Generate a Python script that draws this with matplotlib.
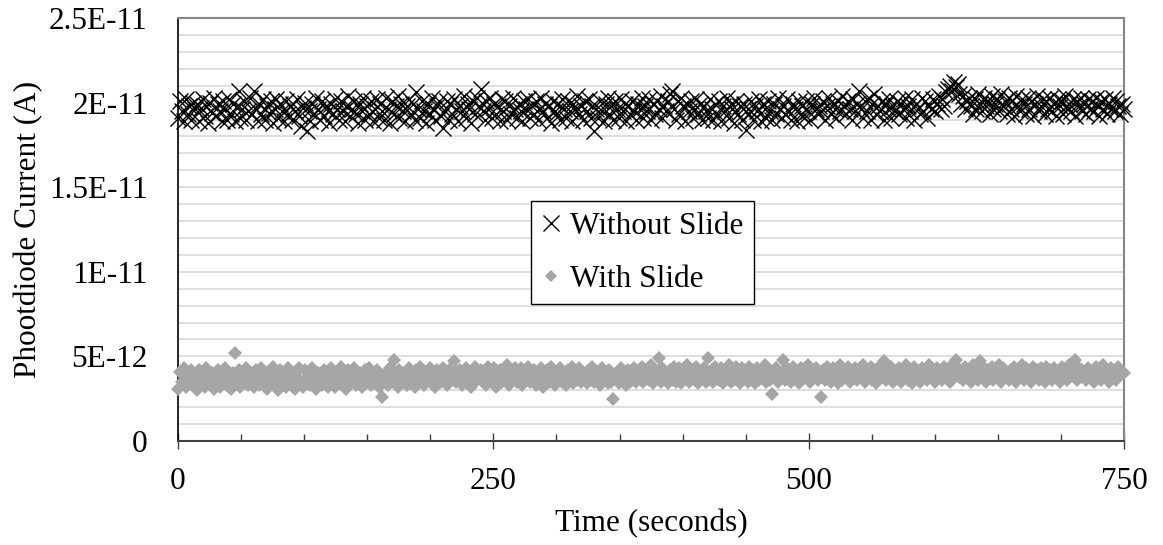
import numpy as np
import matplotlib
matplotlib.use('Agg')
import matplotlib.pyplot as plt
from matplotlib.lines import Line2D
from matplotlib.ticker import MultipleLocator

plt.rcParams['font.family'] = ['Liberation Serif', 'DejaVu Serif']

# readings in pA, sampled every 1.5 s
without_slide = [
    19.1, 20.1, 19.5, 18.9, 20.2, 19.3, 19.8, 19.0, 20.0, 19.6, 19.9, 18.9, 19.7, 20.2, 19.2, 19.8, 18.8, 20.0, 19.4, 20.3,
    19.2, 19.9, 19.5, 18.9, 20.1, 19.6, 19.0, 20.2, 19.3, 19.9, 18.9, 19.8, 20.7, 19.1, 19.6, 20.1, 19.0, 19.5, 20.3, 19.3,
    20.7, 19.6, 18.9, 19.9, 19.3, 20.2, 19.0, 19.8, 19.4, 20.1, 18.8, 19.6, 20.2, 19.1, 19.9, 19.5, 18.9, 20.1, 19.3, 19.8,
    19.0, 19.9, 19.5, 20.2, 19.2, 18.6, 19.7, 20.0, 18.3, 19.5, 18.9, 19.9, 19.3, 20.3, 19.6, 19.0, 20.1, 19.2, 19.8, 19.5,
    18.8, 19.9, 19.3, 20.2, 19.6, 19.0, 20.1, 19.5, 18.9, 19.8, 20.4, 19.2, 19.6, 20.1, 19.3, 18.8, 19.9, 19.5, 20.3, 19.0,
    19.8, 19.3, 20.1, 18.9, 19.6, 20.2, 19.1, 19.9, 19.5, 19.0, 20.3, 19.6, 18.8, 20.1, 19.3, 19.8, 20.4, 19.1, 19.9, 19.5,
    18.9, 19.8, 20.2, 19.3, 19.9, 19.0, 20.6, 19.6, 19.1, 20.1, 19.5, 18.8, 19.9, 19.3, 20.3, 19.6, 19.0, 19.8, 20.1, 19.2,
    18.5, 19.5, 20.1, 19.0, 19.9, 19.3, 20.2, 19.6, 18.9, 19.8, 19.5, 20.4, 19.1, 19.9, 19.6, 18.8, 20.1, 19.3, 20.3, 19.8,
    20.8, 19.5, 19.0, 20.1, 19.6, 20.3, 19.1, 19.9, 19.3, 19.8, 18.9, 20.2, 19.5, 20.1, 19.0, 19.8, 19.3, 20.3, 19.6, 19.1,
    19.9, 19.5, 18.9, 20.1, 19.6, 20.2, 19.1, 19.8, 19.3, 20.1, 19.0, 19.6, 20.3, 19.5, 19.9, 19.1, 19.8, 18.8, 20.1, 19.5,
    19.3, 19.9, 19.0, 20.2, 19.6, 19.1, 20.1, 19.5, 18.9, 19.9, 19.6, 20.4, 19.3, 19.8, 19.0, 20.1, 19.5, 20.2, 19.1, 19.8,
    18.3, 19.6, 19.1, 20.1, 19.5, 18.9, 19.9, 20.3, 19.3, 19.8, 19.0, 20.1, 19.6, 19.1, 20.2, 19.5, 19.9, 18.9, 19.8, 19.3,
    20.1, 19.5, 19.0, 19.9, 19.6, 20.3, 19.1, 19.8, 19.5, 20.2, 19.0, 19.9, 19.3, 20.1, 19.6, 20.4, 19.1, 19.8, 19.5, 20.1,
    20.5, 20.7, 19.6, 19.0, 20.1, 19.3, 20.3, 19.8, 18.9, 19.9, 19.5, 20.1, 19.1, 19.6, 20.2, 19.3, 19.9, 19.0, 19.8, 19.5,
    19.1, 20.2, 19.6, 19.0, 19.9, 19.3, 20.1, 18.9, 19.8, 19.5, 20.3, 19.1, 19.9, 19.6, 18.8, 20.1, 19.3, 19.8, 19.0, 19.9,
    18.4, 19.6, 19.3, 20.1, 19.0, 19.8, 19.5, 20.2, 18.9, 19.9, 19.6, 19.1, 20.1, 19.5, 19.0, 19.9, 19.3, 20.3, 19.6, 19.1,
    19.8, 19.3, 20.2, 19.5, 19.0, 19.9, 19.6, 18.9, 20.1, 19.3, 19.8, 19.1, 20.1, 19.5, 19.0, 19.9, 20.3, 19.6, 19.3, 19.8,
    19.5, 20.1, 19.0, 19.8, 20.3, 19.3, 19.9, 19.6, 19.1, 20.1, 19.5, 20.4, 19.8, 19.3, 20.1, 19.6, 19.0, 20.2, 19.5, 19.9,
    20.7, 19.6, 19.1, 20.1, 19.5, 20.3, 19.0, 19.9, 20.5, 19.3, 19.8, 19.5, 20.1, 19.0, 19.9, 19.6, 20.2, 19.1, 19.8, 19.5,
    20.1, 19.3, 19.9, 19.6, 20.3, 19.1, 19.8, 19.5, 20.2, 19.0, 19.9, 19.6, 19.3, 20.3, 19.5, 20.1, 19.1, 19.8, 19.6, 20.2,
    19.5, 19.9, 20.4, 19.6, 20.2, 19.8, 20.6, 20.8, 21.0, 20.7, 21.2, 20.9, 21.1, 20.5, 19.9, 20.4, 19.6, 20.1, 20.3, 19.8,
    19.3, 20.2, 19.6, 20.5, 19.9, 19.5, 20.3, 19.8, 20.1, 19.3, 20.4, 19.6, 19.9, 20.2, 19.5, 20.5, 19.8, 20.1, 19.3, 20.3,
    19.6, 20.1, 19.2, 20.4, 19.8, 19.5, 20.2, 19.9, 19.3, 20.3, 19.6, 20.1, 19.2, 19.9, 20.4, 19.5, 19.8, 20.2, 19.3, 20.1,
    19.6, 20.3, 19.5, 19.9, 19.2, 20.2, 19.8, 20.1, 19.3, 20.4, 19.6, 19.9, 19.5, 20.2, 19.2, 20.1, 19.8, 20.3, 19.5, 19.9,
    19.3, 20.2, 19.6, 20.1, 19.5, 20.3, 19.8, 19.2, 20.1, 19.6, 20.2, 19.3, 19.9, 19.6, 20.3, 19.5, 20.1, 19.8, 19.3, 19.9,
    19.6,
]

with_slide = [
    3.1, 4.1, 3.5, 4.3, 3.2, 3.9, 3.6, 4.2, 3.3, 3.8, 3.0, 4.2, 3.5, 3.9, 3.2, 4.3, 3.6, 3.3, 4.0, 3.1,
    3.5, 4.2, 3.2, 3.9, 3.6, 4.3, 3.3, 3.8, 3.1, 4.0, 5.2, 3.5, 4.2, 3.2, 3.9, 3.6, 4.3, 3.3, 3.8, 4.0,
    3.2, 4.2, 3.6, 3.3, 4.3, 3.5, 3.9, 3.1, 4.0, 3.6, 4.4, 3.3, 3.8, 3.0, 4.2, 3.5, 3.9, 3.2, 4.3, 3.6,
    3.3, 4.0, 3.1, 3.8, 4.3, 3.5, 3.2, 4.2, 3.6, 3.9, 3.3, 4.3, 3.5, 3.1, 4.0, 3.8, 3.3, 4.2, 3.6, 3.2,
    3.9, 4.3, 3.5, 3.2, 4.0, 3.6, 4.4, 3.3, 3.8, 3.1, 4.2, 3.5, 3.9, 4.3, 3.3, 3.6, 4.0, 3.2, 3.8, 4.2,
    3.5, 4.3, 3.3, 3.9, 3.6, 4.2, 3.2, 3.8, 2.6, 3.5, 4.0, 3.3, 4.3, 3.6, 4.8, 3.9, 3.2, 4.2, 3.5, 3.8,
    4.0, 3.3, 4.3, 3.6, 3.9, 3.2, 4.2, 3.5, 4.4, 3.8, 3.3, 4.0, 3.6, 4.3, 3.5, 3.9, 3.2, 4.2, 3.8, 3.5,
    4.3, 3.6, 3.3, 4.0, 3.8, 4.4, 4.7, 3.5, 3.9, 4.2, 3.3, 3.8, 4.3, 3.5, 4.0, 3.2, 3.9, 4.4, 3.6, 3.8,
    4.2, 3.5, 4.0, 3.3, 4.4, 3.8, 3.6, 4.3, 3.2, 3.9, 4.2, 3.5, 4.0, 3.6, 4.5, 3.3, 3.9, 3.8, 4.3, 3.5,
    3.9, 4.3, 3.3, 4.0, 3.6, 4.4, 3.5, 3.8, 4.2, 3.3, 4.0, 3.6, 4.3, 3.2, 3.9, 4.2, 3.5, 4.4, 3.8, 3.3,
    4.0, 3.6, 4.3, 3.5, 3.9, 3.3, 4.2, 3.8, 4.4, 3.4, 3.9, 3.6, 4.3, 3.5, 4.0, 3.8, 3.4, 4.2, 3.6, 4.4,
    3.5, 4.0, 3.8, 3.3, 4.3, 3.6, 3.9, 3.4, 4.2, 3.5, 2.5, 3.8, 4.0, 3.4, 4.3, 3.6, 3.9, 3.3, 4.2, 3.5,
    3.9, 4.3, 3.5, 4.0, 3.7, 4.4, 3.5, 3.9, 4.2, 3.6, 4.5, 3.4, 3.8, 4.1, 4.9, 3.5, 4.3, 3.8, 4.0, 3.4,
    4.2, 3.6, 4.4, 3.5, 3.9, 4.3, 3.4, 4.0, 3.8, 4.5, 3.5, 3.9, 4.2, 3.6, 4.4, 3.4, 4.0, 3.8, 4.3, 3.5,
    4.9, 3.8, 4.2, 3.5, 4.4, 3.9, 3.6, 4.3, 3.4, 4.0, 3.8, 4.5, 3.5, 4.2, 3.6, 4.4, 3.9, 3.4, 4.3, 3.8,
    4.0, 3.5, 4.4, 3.8, 4.2, 3.4, 4.3, 3.6, 4.0, 3.9, 4.5, 3.5, 4.2, 3.6, 2.8, 3.9, 4.3, 3.5, 4.0, 3.8,
    4.8, 3.6, 4.3, 3.9, 3.5, 4.4, 3.8, 4.1, 3.4, 4.3, 3.6, 4.2, 3.9, 4.5, 3.5, 4.0, 3.8, 4.3, 3.6, 3.9,
    2.6, 4.2, 3.6, 4.4, 3.9, 3.5, 4.3, 3.8, 4.1, 3.4, 4.5, 3.6, 4.2, 3.9, 4.4, 3.5, 4.0, 3.8, 4.3, 3.6,
    4.2, 3.9, 4.5, 3.5, 4.0, 3.8, 4.4, 3.6, 4.2, 3.4, 4.3, 3.9, 4.0, 4.7, 3.6, 4.2, 3.8, 4.4, 3.5, 4.0,
    3.8, 4.3, 3.5, 4.0, 3.9, 4.5, 3.6, 4.2, 3.4, 4.4, 3.8, 4.0, 3.5, 4.3, 3.9, 4.2, 3.6, 4.5, 3.8, 4.0,
    3.5, 4.3, 3.9, 4.0, 3.6, 4.4, 3.8, 4.2, 3.5, 4.5, 3.9, 4.8, 4.3, 3.8, 4.0, 3.6, 4.4, 3.9, 4.2, 3.5,
    4.5, 3.8, 4.0, 3.6, 4.7, 3.9, 4.3, 3.5, 4.2, 3.8, 4.4, 3.6, 4.0, 3.9, 4.5, 3.5, 4.3, 3.8, 4.0, 3.6,
    4.2, 3.9, 4.4, 3.5, 4.0, 3.8, 4.5, 3.6, 4.3, 3.9, 4.0, 3.5, 4.4, 3.8, 4.2, 3.6, 4.3, 4.0, 3.5, 4.4,
    3.8, 4.2, 3.6, 4.3, 3.9, 4.0, 3.5, 4.4, 3.8, 4.2, 3.6, 4.5, 3.9, 4.0, 4.8, 3.6, 4.3, 3.8, 4.2, 3.9,
    3.6, 4.3, 3.9, 4.0, 3.5, 4.4, 3.8, 4.2, 3.6, 4.5, 3.9, 4.0, 3.5, 4.3, 3.8, 4.2, 3.6, 4.4, 3.9, 4.0,
    4.0,
]

ytick_vals = [0, 5e-12, 1e-11, 1.5e-11, 2e-11, 2.5e-11]
ytick_labels = ['0', '5E-12', '1E-11', '1.5E-11', '2E-11', '2.5E-11']
xtick_vals = [0, 250, 500, 750]

t_without = np.arange(len(without_slide)) * 1.5
t_with = np.arange(len(with_slide)) * 1.5

fs = 22.5

fig = plt.figure(figsize=(11.63, 5.45), dpi=100)
ax = fig.add_axes([0.1531, 0.1908, 0.8134, 0.7762])

ax.plot(t_without, np.array(without_slide) * 1e-12, linestyle='none',
        marker='x', color='black', markersize=12, markeredgewidth=1.0,
        clip_on=False, zorder=3)
ax.plot(t_with, np.array(with_slide) * 1e-12, linestyle='none',
        marker='D', color='#a6a6a6', markersize=7.5, markeredgewidth=0,
        clip_on=False, zorder=3)

ax.set_xlim(0, 750)
ax.set_ylim(0, 2.5e-11)
ax.set_yticks(ytick_vals)
ax.set_yticklabels(ytick_labels)
ax.yaxis.set_minor_locator(MultipleLocator(1e-12))
ax.set_xticks(xtick_vals)
ax.set_xticklabels([str(v) for v in xtick_vals])
ax.xaxis.set_minor_locator(MultipleLocator(50))

ax.grid(True, axis='y', which='both', color='#d9d9d9', linewidth=1.2)
ax.set_axisbelow(True)

ax.tick_params(axis='y', which='both', length=0, pad=22, labelsize=fs)
ax.tick_params(axis='x', which='major', direction='inout', length=11.5,
               width=1.0, color='#404040', pad=13, labelsize=fs)
ax.tick_params(axis='x', which='minor', direction='in', length=5,
               width=1.0, color='#404040')

ax.spines['left'].set_color('black')
ax.spines['left'].set_linewidth(1.2)
ax.spines['bottom'].set_color('#404040')
ax.spines['bottom'].set_linewidth(1.5)
for s in ('top', 'right'):
    ax.spines[s].set_color('#868686')
    ax.spines[s].set_linewidth(1.5)

ax.set_xlabel('Time (seconds)', fontsize=fs, labelpad=9)
ax.set_ylabel('Phootdiode Current (A)', fontsize=fs, labelpad=4)

handles = [
    Line2D([], [], linestyle='none', marker='x', color='black',
           markersize=11, markeredgewidth=1.0),
    Line2D([], [], linestyle='none', marker='D', color='#a6a6a6',
           markersize=6, markeredgewidth=0),
]
leg = ax.legend(handles, ['Without Slide', 'With Slide'], fontsize=fs,
                loc='upper left', bbox_to_anchor=(0.373, 0.567),
                frameon=True, fancybox=False, framealpha=1,
                edgecolor='black', handlelength=0.6, handletextpad=0.3,
                borderpad=0.35, labelspacing=0.75, borderaxespad=0)
leg.get_frame().set_linewidth(1.0)

fig.savefig('out.png', dpi=100)
